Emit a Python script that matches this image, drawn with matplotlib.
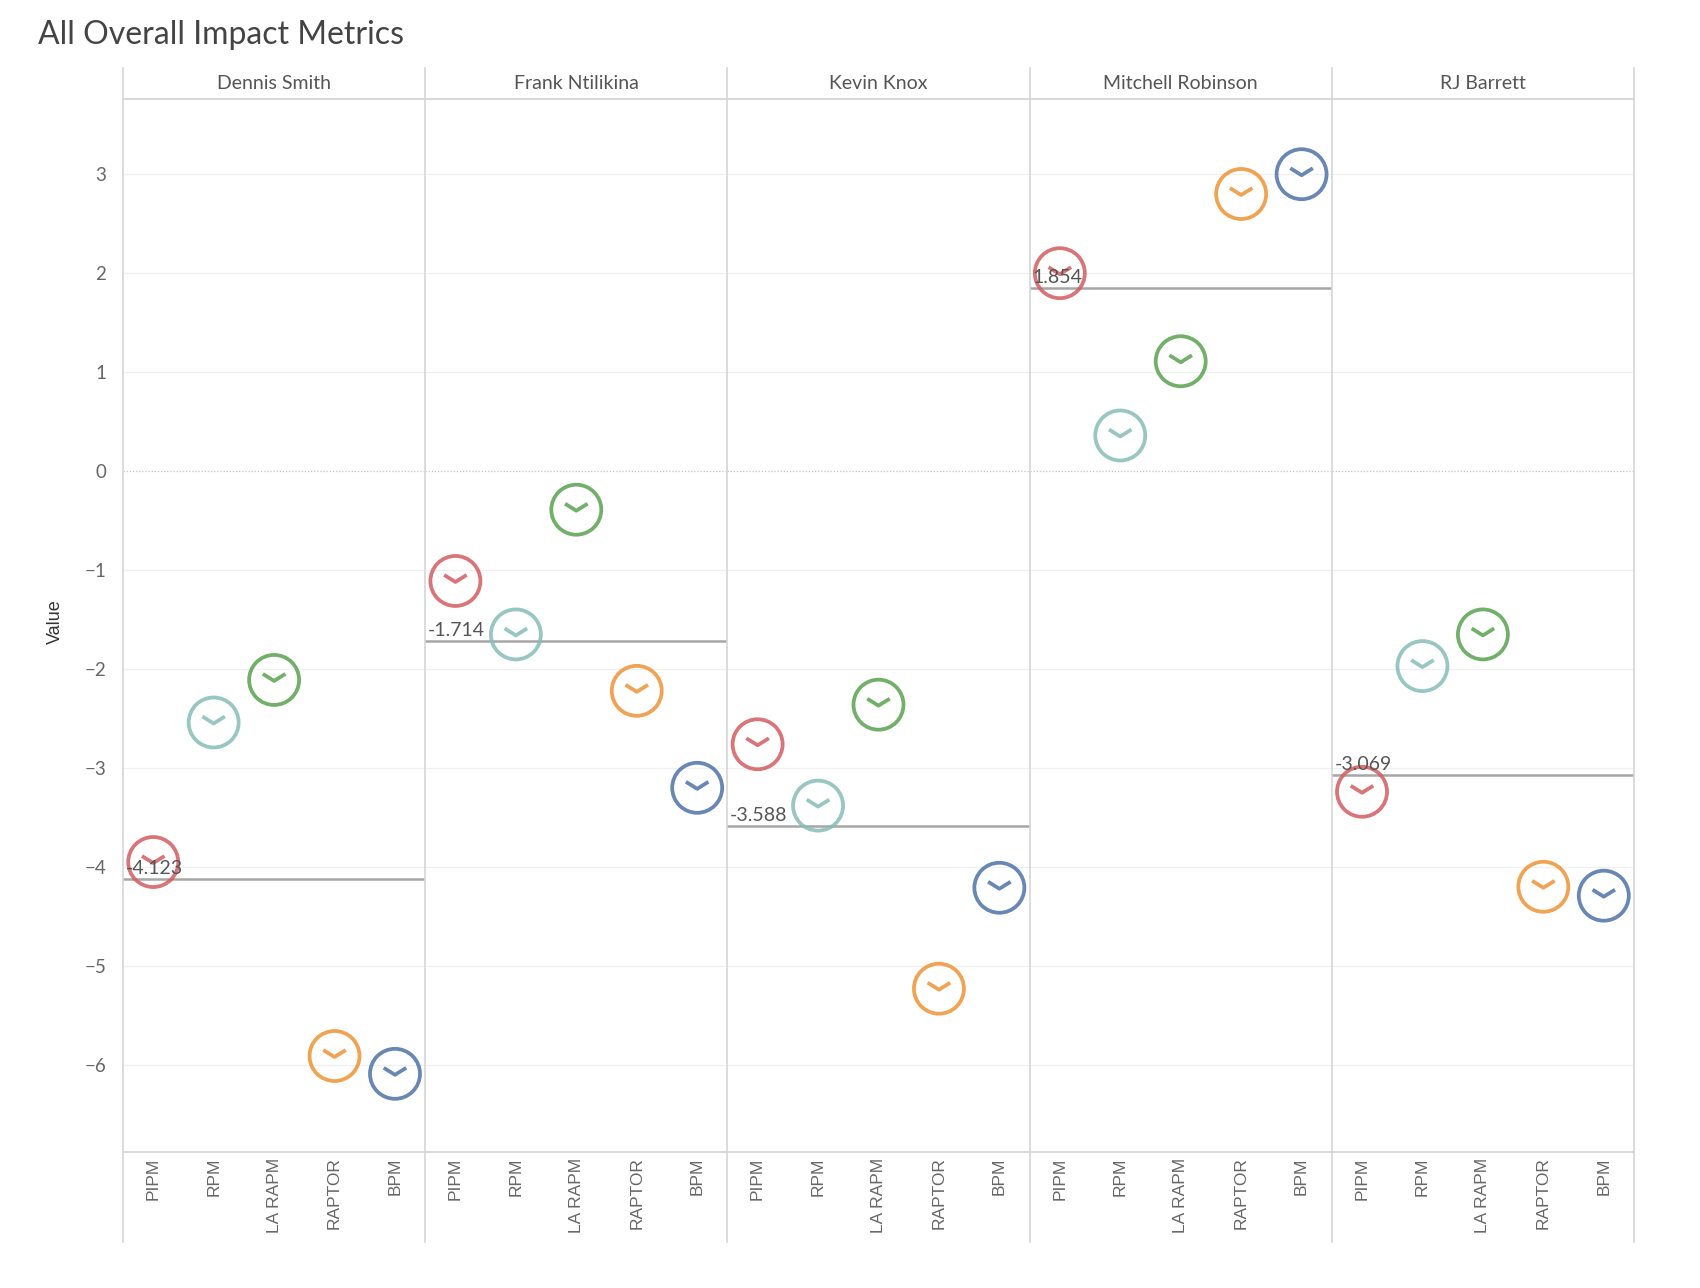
import matplotlib.pyplot as plt
from matplotlib.path import Path
from matplotlib.lines import Line2D
import numpy as np

players = ['Dennis Smith', 'Frank Ntilikina', 'Kevin Knox', 'Mitchell Robinson', 'RJ Barrett']
metrics = ['PIPM', 'RPM', 'LA RAPM', 'RAPTOR', 'BPM']

dennis = [-3.95, -2.54, -2.11, -5.91, -6.09]
frank = [-1.11, -1.65, -0.39, -2.22, -3.20]
knox = [-2.76, -3.38, -2.36, -5.23, -4.21]
mitchell = [2.00, 0.36, 1.11, 2.80, 3.00]
barrett = [-3.24, -1.97, -1.65, -4.20, -4.29]
values = [dennis, frank, knox, mitchell, barrett]

avg_vals = [-4.123, -1.714, -3.588, 1.854, -3.069]
avg_labels = ['-4.123', '-1.714', '-3.588', '1.854', '-3.069']

yticks = [-6, -5, -4, -3, -2, -1, 0, 1, 2, 3]

metric_colors = ['#d35c60', '#86bcb6', '#59a14f', '#ee9335', '#4e72a7']

W, H = 1700, 1288
fig = plt.figure(figsize=(W / 100, H / 100), dpi=100)
axes = fig.subplots(1, 5, sharey=True)
fig.subplots_adjust(left=123 / W, right=1634 / W, bottom=1 - 1152 / H,
                    top=1 - 99 / H, wspace=0)

# clock-ish marker: circle with a small chevron
circle = Path.unit_circle()
chev = Path([(-0.45, 0.24), (0.0, -0.04), (0.45, 0.24)],
            [Path.MOVETO, Path.LINETO, Path.LINETO])
clock = Path.make_compound_path(circle, chev)

line_c = '#d6d6d6'
text_c = '#666666'

for i, ax in enumerate(axes):
    x = np.arange(len(metrics))
    for y in yticks:
        if y == 0:
            ax.axhline(y, color='#c4c4c4', lw=0.9, ls=(0, (1, 1.5)), zorder=0)
        else:
            ax.axhline(y, color='#f0f0f0', lw=0.9, zorder=0)

    ax.axhline(avg_vals[i], color='#a6a6a6', lw=1.8, zorder=2)
    ax.scatter(x, values[i], marker=clock, s=36 ** 2, facecolors='none',
               edgecolors=metric_colors, linewidths=2.7, alpha=0.85, zorder=3)
    ax.annotate(avg_labels[i], xy=(0, avg_vals[i]), xycoords=('axes fraction', 'data'),
                xytext=(2, 1.5), textcoords='offset points', ha='left', va='bottom',
                fontsize=14, color='#555555', family='Lato', zorder=4)

    ax.set_xlim(-0.5, 4.5)
    ax.set_ylim(-6.88, 3.76)
    ax.set_xticks(x)
    ax.set_xticklabels(metrics, rotation=90, fontsize=12.5, color=text_c,
                       family='Liberation Sans', va='top')
    ax.tick_params(axis='x', length=0, pad=4)
    ax.tick_params(axis='y', length=0, pad=12, labelsize=13.5, labelcolor=text_c)
    ax.set_yticks(yticks)
    for s in ['left', 'right']:
        ax.spines[s].set_visible(False)
    for s in ['top', 'bottom']:
        ax.spines[s].set_color(line_c)
        ax.spines[s].set_linewidth(1.3)

    ax.text(0.5, 1 + 15.5 / 1053, players[i], transform=ax.transAxes,
            ha='center', va='center', fontsize=14, color='#555555', family='Lato')

for lab in axes[0].get_yticklabels():
    lab.set_family('Lato')

# panel dividers spanning header and label bands
for k in range(6):
    xf = (123 + k * (1634 - 123) / 5) / W
    fig.add_artist(Line2D([xf, xf], [1 - 68 / H, 1 - 1242 / H],
                          transform=fig.transFigure, color=line_c, lw=1.2))

fig.text(55 / W, 1 - 622 / H, 'Value', rotation=90, ha='center', va='center',
         fontsize=13, color='#333333', family='Liberation Sans')
fig.text(38 / W, 1 - 35 / H, 'All Overall Impact Metrics', ha='left', va='center',
         fontsize=23, color='#444444', family='Lato')

plt.savefig('out.png', dpi=100)
